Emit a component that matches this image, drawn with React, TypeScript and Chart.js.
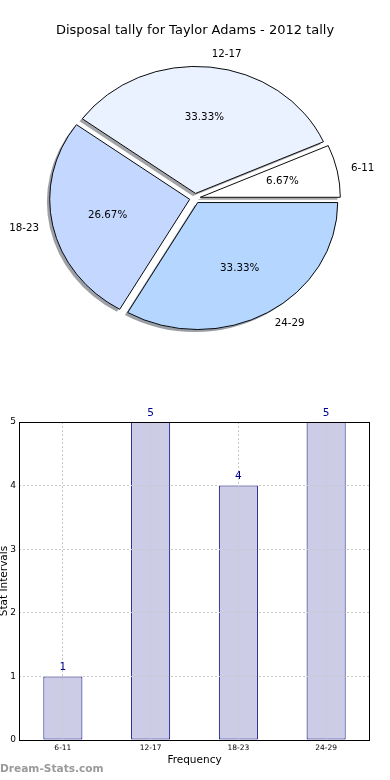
import { useEffect, useRef } from 'react';
import { Chart, registerables } from 'chart.js';

Chart.register(...registerables);

const FONT = "'DejaVu Sans', 'Noto Sans', sans-serif";

const pieTitle = 'Disposal tally for Taylor Adams - 2012 tally';
const categories = ['6-11', '12-17', '18-23', '24-29'];
const tallies = [1, 5, 4, 5];
const sliceColors = ['#ffffff', '#eaf1ff', '#c4d8ff', '#b4d6ff'];
const yTickValues = [0, 1, 2, 3, 4, 5];
const xAxisTitle = 'Frequency';
const yAxisTitle = 'Stat Intervals';
const watermark = 'Dream-Stats.com';

// Chart.js draws clockwise; reverse so the layout matches the counter-clockwise original
const pieLabels = [...categories].reverse();
const pieValues = [...tallies].reverse();
const pieColors = [...sliceColors].reverse();

const PIE_RADIUS = 140;
const Y_SQUASH = 127 / 140;
const EXPLODE = 5.4;
const SHADOW_DX = -2.8;
const SHADOW_DY = 2.5;

function shadowOf(hex: string) {
  const h = hex.replace('#', '');
  const r = Math.round(parseInt(h.slice(0, 2), 16) * 0.3);
  const g = Math.round(parseInt(h.slice(2, 4), 16) * 0.3);
  const b = Math.round(parseInt(h.slice(4, 6), 16) * 0.3);
  return `rgba(${r},${g},${b},0.5)`;
}

const pieDecor = {
  id: 'pieDecor',
  beforeDatasetsDraw(chart: any) {
    const ctx = chart.ctx;
    const arcs = chart.getDatasetMeta(0).data;
    if (!arcs.length) return;
    arcs.forEach((arc: any) => {
      if (arc.__wrapped) return;
      const orig = arc.draw;
      arc.draw = function (c: CanvasRenderingContext2D, area: any) {
        const mid = (this.startAngle + this.endAngle) / 2;
        c.save();
        c.translate(Math.cos(mid) * EXPLODE, Math.sin(mid) * EXPLODE);
        orig.call(this, c, area);
        c.restore();
      };
      arc.__wrapped = true;
    });
    const cx = arcs[0].x;
    const cy = arcs[0].y;
    ctx.save();
    ctx.translate(cx, cy);
    ctx.scale(1, Y_SQUASH);
    ctx.translate(-cx, -cy);
    // shadow pass (under every wedge)
    arcs.forEach((arc: any, i: number) => {
      ctx.save();
      ctx.shadowColor = shadowOf(pieColors[i]);
      ctx.shadowOffsetX = SHADOW_DX;
      ctx.shadowOffsetY = SHADOW_DY;
      ctx.shadowBlur = 0;
      const saved = arc.options;
      arc.options = Object.assign({}, saved, { borderWidth: 0 });
      arc.draw(ctx, chart.chartArea);
      arc.options = saved;
      ctx.restore();
    });
  },
  afterDatasetsDraw(chart: any) {
    const ctx = chart.ctx;
    ctx.restore();
    const arcs = chart.getDatasetMeta(0).data;
    const total = pieValues.reduce((a, b) => a + b, 0);
    ctx.save();
    ctx.fillStyle = '#000';
    ctx.font = `10.3px ${FONT}`;
    ctx.textBaseline = 'middle';
    arcs.forEach((arc: any, i: number) => {
      const mid = (arc.startAngle + arc.endAngle) / 2;
      const cos = Math.cos(mid);
      const sin = Math.sin(mid);
      const R = arc.outerRadius;
      const dl = EXPLODE + 1.1 * R;
      ctx.textAlign = cos >= 0 ? 'left' : 'right';
      ctx.fillText(pieLabels[i], arc.x + dl * cos, arc.y + dl * sin * Y_SQUASH);
      const dp = EXPLODE + 0.6 * R;
      ctx.textAlign = 'center';
      const pct = ((pieValues[i] / total) * 100).toFixed(2) + '%';
      ctx.fillText(pct, arc.x + dp * cos, arc.y + dp * sin * Y_SQUASH);
    });
    ctx.restore();
  },
};

const barDecor = {
  id: 'barDecor',
  afterDraw(chart: any) {
    const ctx = chart.ctx;
    const { left, right, top, bottom } = chart.chartArea;
    ctx.save();
    ctx.setLineDash([]);
    ctx.strokeStyle = '#000';
    ctx.lineWidth = 1;
    ctx.strokeRect(Math.round(left) + 0.5, Math.round(top) + 0.5, Math.round(right - left) - 1, Math.round(bottom - top));
    const bars = chart.getDatasetMeta(0).data;
    ctx.fillStyle = '#00008b';
    ctx.font = `10.5px ${FONT}`;
    ctx.textAlign = 'center';
    ctx.textBaseline = 'middle';
    bars.forEach((bar: any, i: number) => {
      ctx.fillText(String(tallies[i]), bar.x, bar.y - 9);
    });
    ctx.restore();
  },
};

export default function App() {
  const pieRef = useRef<HTMLCanvasElement>(null);
  const barRef = useRef<HTMLCanvasElement>(null);

  useEffect(() => {
    const pie = new Chart(pieRef.current as HTMLCanvasElement, {
      type: 'pie',
      data: {
        labels: pieLabels,
        datasets: [
          {
            data: pieValues,
            backgroundColor: pieColors,
            borderColor: '#000',
            borderWidth: 1,
            borderJoinStyle: 'miter',
            radius: PIE_RADIUS,
            clip: false,
          } as any,
        ],
      },
      options: {
        responsive: false,
        animation: false,
        rotation: 90,
        layout: { padding: 0 },
        plugins: {
          legend: { display: false },
          tooltip: { enabled: false },
          title: {
            display: true,
            text: pieTitle,
            color: '#000',
            font: { family: FONT, size: 13, weight: 'normal' },
            padding: { top: 22.5, bottom: 8.5 },
          },
        },
      } as any,
      plugins: [pieDecor],
    });

    const gridStyle = { color: '#c8c8c8', lineWidth: 1, drawTicks: false, z: 1 };
    const bar = new Chart(barRef.current as HTMLCanvasElement, {
      type: 'bar',
      data: {
        labels: categories,
        datasets: [
          {
            data: tallies,
            backgroundColor: '#ccccE6',
            borderColor: '#000080',
            borderWidth: 1,
            borderSkipped: false,
            categoryPercentage: 1,
            barPercentage: 0.445,
          } as any,
        ],
      },
      options: {
        responsive: false,
        animation: false,
        layout: { padding: { top: 61, right: 20, left: 0, bottom: 0 } },
        plugins: {
          legend: { display: false },
          tooltip: { enabled: false },
        },
        scales: {
          x: {
            offset: true,
            grid: { ...gridStyle, offset: false },
            border: { display: false, dash: [2, 2] },
            ticks: {
              color: '#000',
              font: { family: FONT, size: 7.5 },
              padding: 3.5,
              maxRotation: 0,
              autoSkip: false,
            },
            title: {
              display: true,
              text: xAxisTitle,
              color: '#000',
              font: { family: FONT, size: 10.5 },
              padding: { top: 0, bottom: 13.7 },
            },
            afterFit: (s: any) => {
              s.height = 40;
            },
          },
          y: {
            min: 0,
            max: 5,
            afterBuildTicks: (s: any) => {
              s.ticks = yTickValues.map((v) => ({ value: v }));
            },
            grid: { ...gridStyle },
            border: { display: false, dash: [2, 2] },
            ticks: {
              color: '#000',
              font: { family: FONT, size: 9 },
              padding: 3,
            },
            title: {
              display: true,
              text: yAxisTitle,
              color: '#000',
              font: { family: FONT, size: 10.5 },
              padding: { top: -2.3, bottom: 0 },
            },
            afterFit: (s: any) => {
              s.width = 19;
            },
          },
        },
      } as any,
      plugins: [barDecor],
    });

    return () => {
      pie.destroy();
      bar.destroy();
    };
  }, []);

  return (
    <div style={{ position: 'absolute', left: 0, top: 0, width: 390, height: 780, background: '#fff', overflow: 'hidden' }}>
      <canvas ref={pieRef} width={390} height={350} style={{ position: 'absolute', left: 0, top: 0, width: 390, height: 350 }} />
      <canvas ref={barRef} width={390} height={419} style={{ position: 'absolute', left: 0, top: 361, width: 390, height: 419 }} />
      <div
        style={{
          position: 'absolute',
          left: 0,
          top: 761,
          fontFamily: FONT,
          fontWeight: 'bold',
          fontSize: 10.6,
          lineHeight: '14px',
          color: '#9a9a9a',
          whiteSpace: 'nowrap',
        }}
      >
        {watermark}
      </div>
    </div>
  );
}
